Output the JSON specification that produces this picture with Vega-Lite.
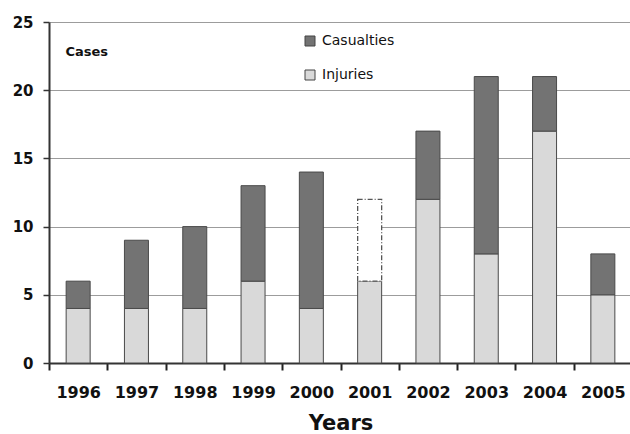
{
  "$schema": "https://vega.github.io/schema/vega-lite/v6.json",
  "autosize": {"type": "none"},
  "width": 583,
  "height": 341,
  "padding": {"left": 49, "top": 22, "right": 0, "bottom": 71},
  "background": "white",
  "config": {"view": {"stroke": null}, "font": "DejaVu Sans"},
  "data": {
    "values": [
      {"year": "1996", "type": "Injuries", "cases": 4},
      {"year": "1996", "type": "Casualties", "cases": 2},
      {"year": "1997", "type": "Injuries", "cases": 4},
      {"year": "1997", "type": "Casualties", "cases": 5},
      {"year": "1998", "type": "Injuries", "cases": 4},
      {"year": "1998", "type": "Casualties", "cases": 6},
      {"year": "1999", "type": "Injuries", "cases": 6},
      {"year": "1999", "type": "Casualties", "cases": 7},
      {"year": "2000", "type": "Injuries", "cases": 4},
      {"year": "2000", "type": "Casualties", "cases": 10},
      {"year": "2001", "type": "Injuries", "cases": 6},
      {"year": "2002", "type": "Injuries", "cases": 12},
      {"year": "2002", "type": "Casualties", "cases": 5},
      {"year": "2003", "type": "Injuries", "cases": 8},
      {"year": "2003", "type": "Casualties", "cases": 13},
      {"year": "2004", "type": "Injuries", "cases": 17},
      {"year": "2004", "type": "Casualties", "cases": 4},
      {"year": "2005", "type": "Injuries", "cases": 5},
      {"year": "2005", "type": "Casualties", "cases": 3}
    ]
  },
  "layer": [
    {
      "mark": {"type": "bar", "size": 24, "stroke": "#4a4a4a", "strokeWidth": 1},
      "encoding": {
        "x": {
          "field": "year", "type": "ordinal", "title": "Years",
          "scale": {"domain": ["1996","1997","1998","1999","2000","2001","2002","2003","2004","2005"], "paddingInner": 0, "paddingOuter": 0},
          "axis": {
            "tickBand": "extent", "labelAngle": 0,
            "domainColor": "#333", "domainWidth": 2,
            "tickColor": "#222", "tickWidth": 2, "tickSize": 7,
            "labelFont": "DejaVu Sans", "labelFontSize": 16, "labelFontWeight": "bold", "labelColor": "#111", "labelPadding": 14,
            "titleFont": "DejaVu Sans", "titleFontSize": 21, "titleFontWeight": "bold", "titleColor": "#111", "titlePadding": 12
          }
        },
        "y": {
          "field": "cases", "type": "quantitative", "stack": "zero", "title": "Cases",
          "scale": {"domain": [0, 25], "nice": false},
          "axis": {
            "values": [0, 5, 10, 15, 20, 25],
            "grid": true, "gridColor": "#9c9c9c", "gridWidth": 1.2,
            "domainColor": "#333", "domainWidth": 2,
            "tickColor": "#333", "tickSize": 6, "tickWidth": 1.5,
            "labelFont": "DejaVu Sans", "labelFontWeight": "bold", "labelFontSize": 15, "labelColor": "#111", "labelPadding": 10,
            "titleAngle": 0, "titleX": 16, "titleY": 33, "titleAlign": "left", "titleBaseline": "alphabetic",
            "titleFont": "DejaVu Sans", "titleFontSize": 13, "titleFontWeight": "bold", "titleColor": "#111"
          }
        },
        "fill": {
          "field": "type", "type": "nominal",
          "scale": {"domain": ["Casualties", "Injuries"], "range": ["#737373", "#d9d9d9"]},
          "legend": {
            "orient": "none", "legendX": 254, "legendY": 12, "title": null,
            "values": ["Casualties", "Injuries"],
            "symbolType": "square", "symbolSize": 100, "symbolStrokeColor": "#444", "symbolStrokeWidth": 1,
            "labelFont": "DejaVu Sans", "labelFontSize": 14, "labelColor": "#111",
            "rowPadding": 20, "labelOffset": 5, "padding": 0
          }
        },
        "order": {"field": "type", "sort": "descending"}
      }
    },
    {
      "data": {"values": [{"year": "2001", "low": 6, "high": 12}]},
      "mark": {"type": "bar", "size": 24, "fill": "white", "stroke": "#555", "strokeWidth": 1.3, "strokeDash": [5, 2, 1, 2]},
      "encoding": {
        "x": {"field": "year", "type": "ordinal", "title": "Years"},
        "y": {"field": "low", "type": "quantitative", "title": "Cases"},
        "y2": {"field": "high"}
      }
    }
  ]
}
